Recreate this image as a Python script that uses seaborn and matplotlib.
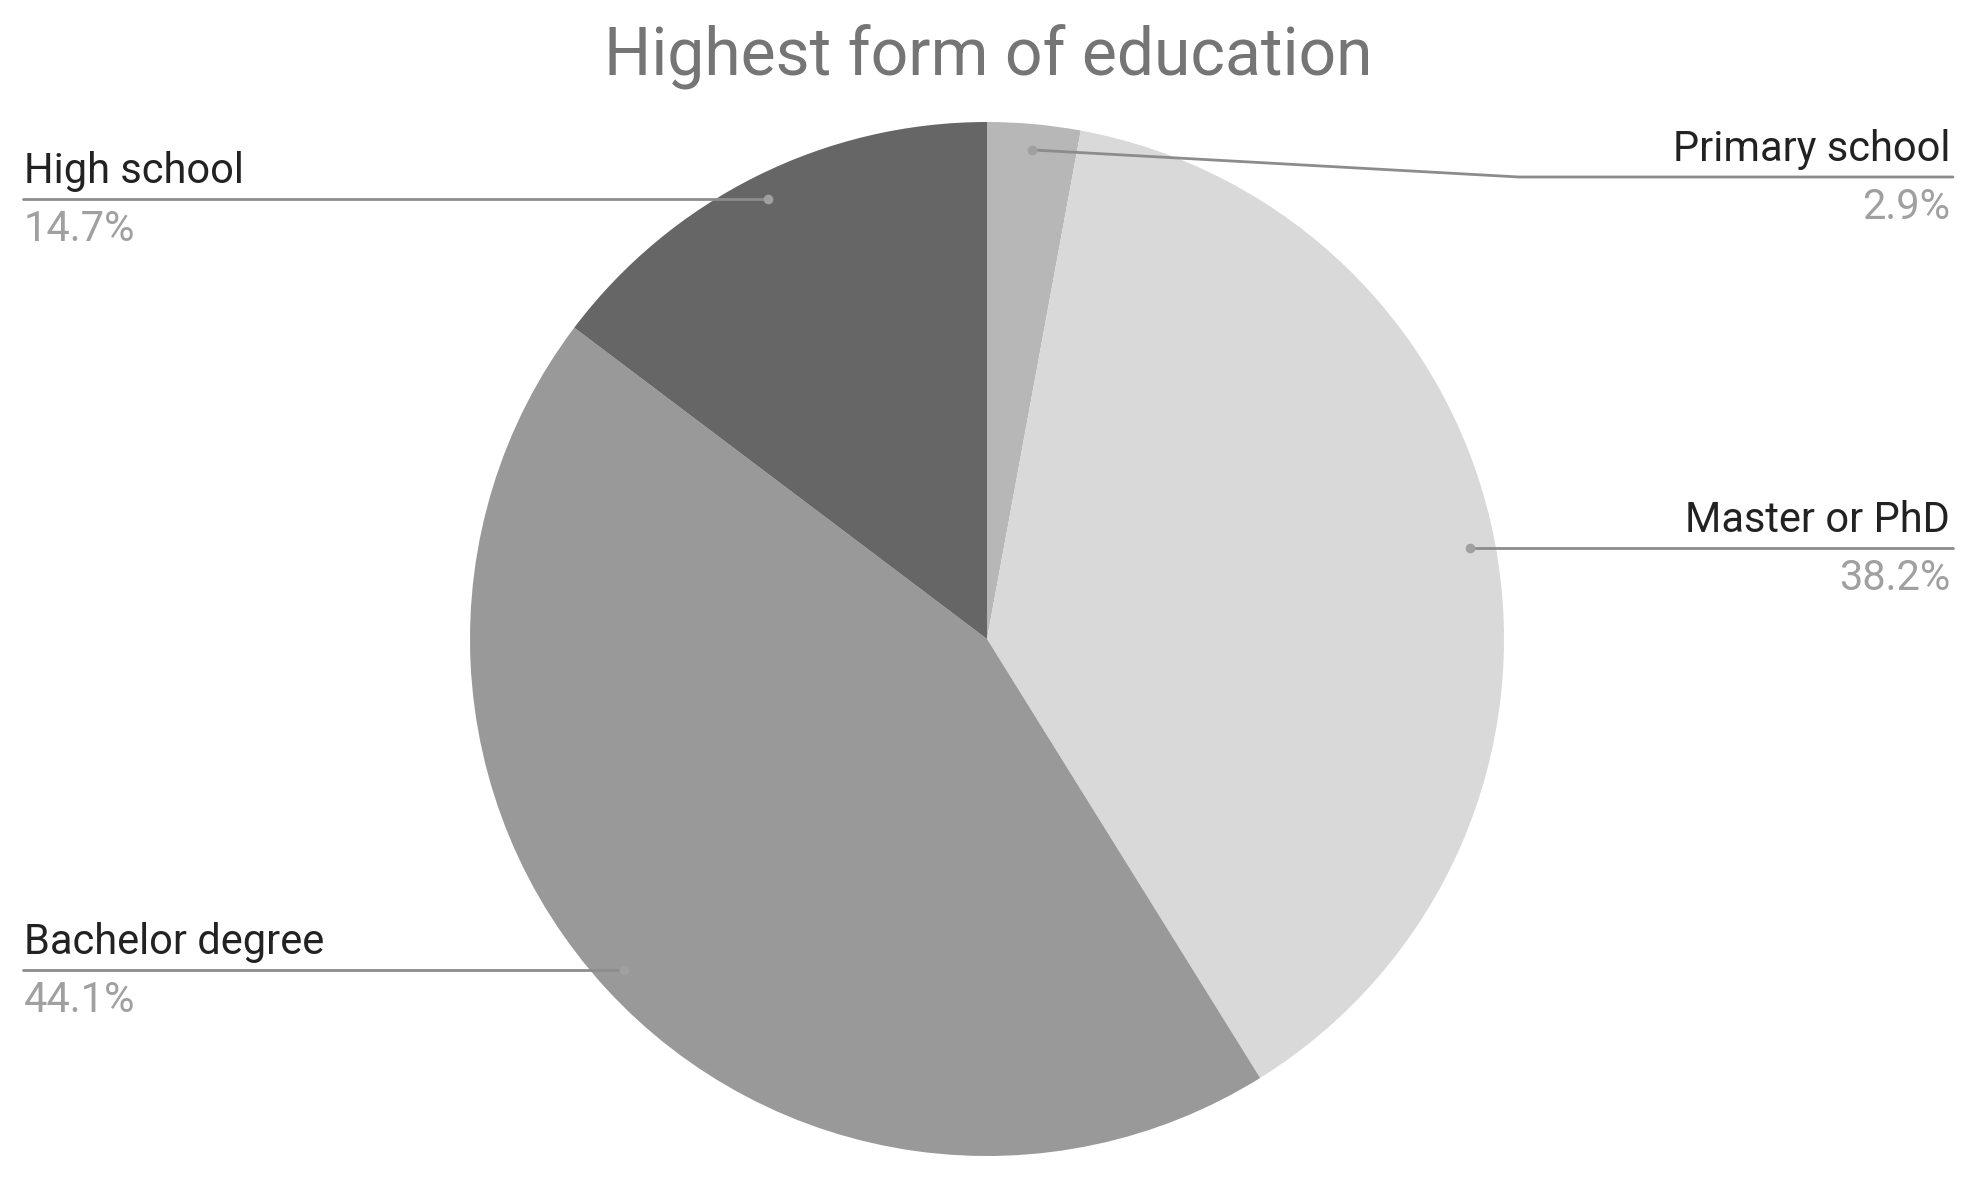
import numpy as np
import seaborn as sns
import matplotlib
matplotlib.use("Agg")
import matplotlib.pyplot as plt

# data, clockwise from the top
labels = ["Primary school", "Master or PhD", "Bachelor degree", "High school"]
shares = [2.9, 38.2, 44.1, 14.7]
colors = ["#b7b7b7", "#d9d9d9", "#999999", "#666666"]
title = "Highest form of education"

sns.set_style("white")
plt.rcParams["font.family"] = ["Roboto", "DejaVu Sans"]

W, H = 1977, 1179
fig = plt.figure(figsize=(W / 100, H / 100), dpi=100)
ax = fig.add_axes([0, 0, 1, 1])
ax.set_xlim(0, W)
ax.set_ylim(0, H)
ax.axis("off")

cx, cy, R = 987, H - 639, 517
ax.pie(shares, colors=colors, startangle=90, counterclock=False,
       center=(cx, cy), radius=R, wedgeprops=dict(linewidth=0))
ax.set_xlim(0, W)
ax.set_ylim(0, H)

ax.text(W / 2, H - 76, title, ha="center", va="baseline",
        fontsize=47.5, color="#757575")

# leader lines and labels
total = sum(shares)
start = 0.0
line_col = "#8c8c8c"
for lab, val in zip(labels, shares):
    mid = (start + val / 2) / total * 2 * np.pi
    start += val
    dx, dy = np.sin(mid), np.cos(mid)
    px, py = cx + 0.95 * R * dx, cy + 0.95 * R * dy
    ly = min(py, H - 177)  # keep clear of the title
    if dx > 0:
        xe = 1953
        if ly != py:
            ax.plot([px, 1519, xe], [py, ly, ly], color=line_col, lw=2,
                    solid_capstyle="round")
        else:
            ax.plot([px, xe], [ly, ly], color=line_col, lw=2)
        tx, ha = 1950, "right"
    else:
        ax.plot([23, px], [ly, ly], color=line_col, lw=2)
        tx, ha = 24, "left"
    ax.plot(px, py, "o", ms=7, color="#a0a0a0", mec="none")
    ax.text(tx, ly + 16, lab, ha=ha, va="baseline", fontsize=30, color="#222222")
    ax.text(tx, ly - 42, f"{val:.1f}%", ha=ha, va="baseline", fontsize=30,
            color="#a0a0a0")

fig.savefig("out.png", dpi=100, facecolor="white")
